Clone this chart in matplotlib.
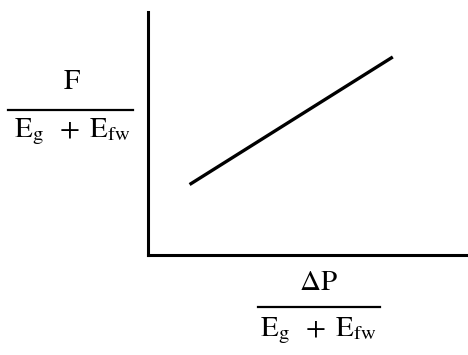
import matplotlib
matplotlib.use("Agg")
import matplotlib.pyplot as plt
from matplotlib.lines import Line2D

# line end points in data units (axes run 0..10)
line_x = [1.3, 7.65]
line_y = [2.9, 8.15]

y_num = r'$\mathrm{F}$'
y_den = r'$\mathrm{E_g}\;\;+\;\mathrm{E_{fw}}$'
x_num = r'$\Delta\mathrm{P}$'
x_den = r'$\mathrm{E_g}\;\;+\;\mathrm{E_{fw}}$'

plt.rcParams['mathtext.fontset'] = 'stix'
plt.rcParams['font.family'] = 'Liberation Serif'

W, H = 468, 355
fig = plt.figure(figsize=(W / 100, H / 100), dpi=100)
ax = fig.add_axes([148 / W, (H - 255) / H, (W - 148) / W, (255 - 12) / H])
ax.plot(line_x, line_y, color='black', lw=2.4, solid_capstyle='butt')
ax.set_xlim(0, 10)
ax.set_ylim(0, 10)
ax.set_xticks([])
ax.set_yticks([])
for s in ['top', 'right']:
    ax.spines[s].set_visible(False)
for s in ['left', 'bottom']:
    ax.spines[s].set_linewidth(2.2)

def px(x, y):
    return x / W, 1 - y / H

fs = 21
# y label fraction
fig.text(*px(72, 82), y_num, ha='center', va='center', fontsize=fs)
fig.add_artist(Line2D([8 / W, 133 / W], [1 - 110 / H] * 2, color='black', lw=1.6))
fig.text(*px(72, 132), y_den, ha='center', va='center', fontsize=fs)

# x label fraction
fig.text(*px(318, 283), x_num, ha='center', va='center', fontsize=fs)
fig.add_artist(Line2D([258 / W, 380 / W], [1 - 307 / H] * 2, color='black', lw=1.6))
fig.text(*px(318, 331), x_den, ha='center', va='center', fontsize=fs)

fig.savefig('out.png', dpi=100)
